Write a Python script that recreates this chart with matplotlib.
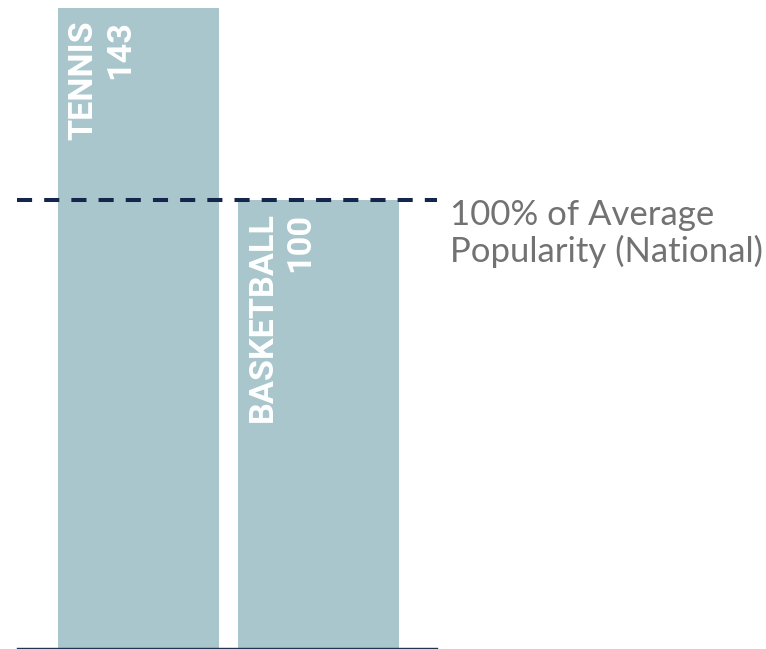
import matplotlib.pyplot as plt
from matplotlib import font_manager
import matplotlib.transforms as mtransforms

sports = ['TENNIS', 'BASKETBALL']
popularity = [143, 100]
average_level = 100
avg_label = '100% of Average\nPopularity (National)'

bar_color = '#A8C6CB'
line_color = '#14264B'

installed = {f.name for f in font_manager.fontManager.ttflist}
bold_fonts = [f for f in ['Liberation Sans Narrow', 'Roboto', 'DejaVu Sans'] if f in installed]
light_fonts = [f for f in ['Lato', 'Noto Sans', 'DejaVu Sans'] if f in installed]

fig = plt.figure(figsize=(7.66, 6.49), dpi=100)
ax = fig.add_axes([17 / 766, 1 / 649, 420 / 766, 640 / 649])

x = list(range(len(sports)))
width = 0.894
ax.bar(x, popularity, width=width, color=bar_color, zorder=1)
ax.axhline(average_level, color=line_color, lw=2.9, dashes=(3.75, 3), zorder=3)

# labels inside bars, rotated, two lines with ends aligned at the top
for i, (name, val) in enumerate(zip(sports, popularity)):
    ax.annotate(name + '\n' + str(val), xy=(i - width / 2, val),
                xytext=(9, -12), textcoords='offset pixels',
                rotation=90, ha='left', va='top', multialignment='right',
                color='white', fontsize=24.7, fontweight='bold',
                family=bold_fonts, linespacing=1.2, zorder=2)

trans = mtransforms.blended_transform_factory(ax.transAxes, ax.transData)
ax.text(1.03, average_level + 0.3, avg_label, transform=trans, ha='left', va='top',
        color='#727272', fontsize=25, fontweight='normal', family=light_fonts,
        linespacing=1.14, clip_on=False)

ax.set_xlim(-0.675, 1.658)
ax.set_ylim(0, 143)
ax.set_xticks([])
ax.set_yticks([])
for s in ['top', 'left', 'right']:
    ax.spines[s].set_visible(False)
ax.spines['bottom'].set_color('#1F3552')
ax.spines['bottom'].set_linewidth(1.0)

fig.savefig('out.png', dpi=100)
